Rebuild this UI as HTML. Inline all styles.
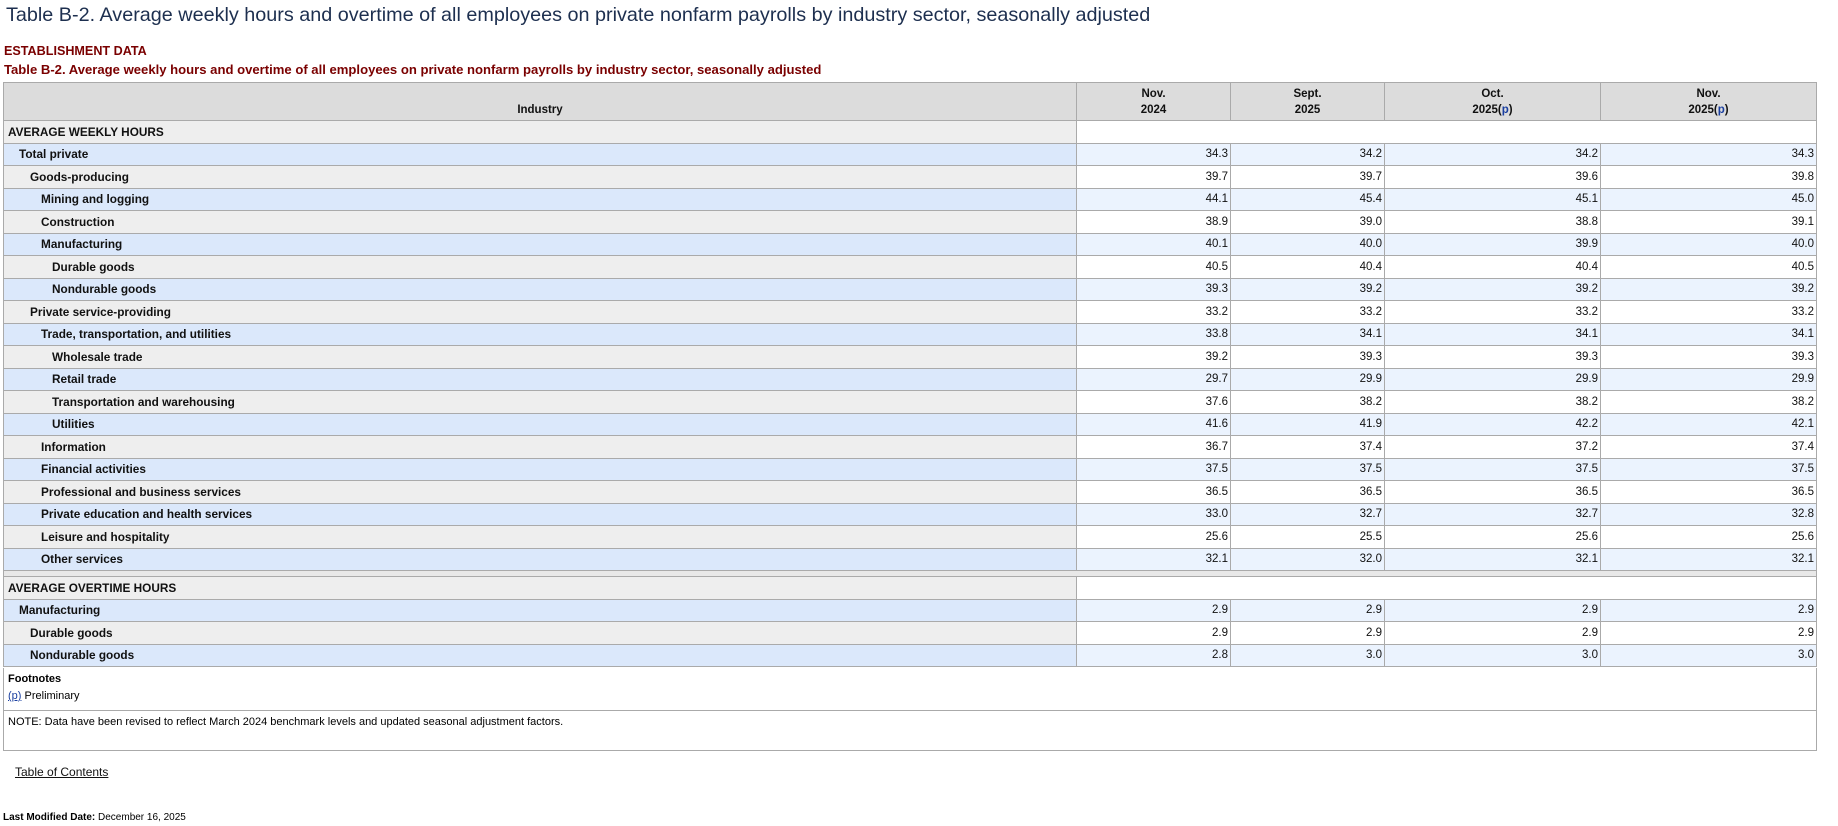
<!DOCTYPE html>
<html><head><meta charset="utf-8"><style>
body{margin:0;background:#fff;width:1838px;height:826px;overflow:hidden;font-family:"Liberation Sans",sans-serif;position:relative}
.t{position:absolute;left:6px;top:4px;font-size:19.8px;color:#1d2f4f;white-space:nowrap}
.e{position:absolute;left:4px;top:44px;font-size:12.6px;font-weight:bold;color:#7a0000}
.s{position:absolute;left:4px;top:62px;font-size:13.1px;font-weight:bold;color:#7a0000;white-space:nowrap}
table{position:absolute;left:3px;top:82px;border-collapse:collapse;table-layout:fixed;width:1814px}
td,th{border:1px solid #aaa;padding:0 2px;font-size:11.5px;height:21.5px;color:#111;white-space:nowrap}
th{background:#dcdcdc;font-weight:bold;height:35px;line-height:16px}
td.l{font-weight:bold;font-size:11.8px}
td.n{text-align:right}
tr.sec td{background:#eee}
tr.sec td.n{background:#fff}
tr.b td.l{background:#dbe8fb}
tr.b td.n{background:#ebf3fe}
tr.g td.l{background:#eee}
tr.g td.n{background:#fff}
tr.gap td{height:5px;background:#e8e8e8;padding:0}
a{color:#1a3fa0}
.fn{position:absolute;left:3px;top:668px;width:1812px;height:82px;border:1px solid #aaa;border-top:none;font-size:11px}
.fn .h{position:absolute;left:4px;top:5px;font-weight:bold}
.fn .p{position:absolute;left:4px;top:22px}
.fn .ln{position:absolute;left:0;right:0;top:42px;border-top:1px solid #aaa}
.fn .no{position:absolute;left:4px;top:48px}
.toc{position:absolute;left:15px;top:765px;font-size:12px;color:#111;text-decoration:underline}
.lm{position:absolute;left:3px;top:812px;font-size:10px}
</style></head><body>
<div class="t">Table B-2. Average weekly hours and overtime of all employees on private nonfarm payrolls by industry sector, seasonally adjusted</div>
<div class="e">ESTABLISHMENT DATA</div>
<div class="s">Table B-2. Average weekly hours and overtime of all employees on private nonfarm payrolls by industry sector, seasonally adjusted</div>
<table>
<colgroup><col style="width:1073px"><col style="width:154px"><col style="width:154px"><col style="width:216px"><col style="width:216px"></colgroup>
<tr><th style="vertical-align:bottom;padding-bottom:2px">Industry</th><th>Nov.<br>2024</th><th>Sept.<br>2025</th><th>Oct.<br>2025(<a>p</a>)</th><th>Nov.<br>2025(<a>p</a>)</th></tr>
<tr class="sec"><td class="l" style="padding-left:4px">AVERAGE WEEKLY HOURS</td><td class="n" colspan="4"></td></tr>
<tr class="b"><td class="l" style="padding-left:15px">Total private</td><td class="n">34.3</td><td class="n">34.2</td><td class="n">34.2</td><td class="n">34.3</td></tr>
<tr class="g"><td class="l" style="padding-left:26px">Goods-producing</td><td class="n">39.7</td><td class="n">39.7</td><td class="n">39.6</td><td class="n">39.8</td></tr>
<tr class="b"><td class="l" style="padding-left:37px">Mining and logging</td><td class="n">44.1</td><td class="n">45.4</td><td class="n">45.1</td><td class="n">45.0</td></tr>
<tr class="g"><td class="l" style="padding-left:37px">Construction</td><td class="n">38.9</td><td class="n">39.0</td><td class="n">38.8</td><td class="n">39.1</td></tr>
<tr class="b"><td class="l" style="padding-left:37px">Manufacturing</td><td class="n">40.1</td><td class="n">40.0</td><td class="n">39.9</td><td class="n">40.0</td></tr>
<tr class="g"><td class="l" style="padding-left:48px">Durable goods</td><td class="n">40.5</td><td class="n">40.4</td><td class="n">40.4</td><td class="n">40.5</td></tr>
<tr class="b"><td class="l" style="padding-left:48px">Nondurable goods</td><td class="n">39.3</td><td class="n">39.2</td><td class="n">39.2</td><td class="n">39.2</td></tr>
<tr class="g"><td class="l" style="padding-left:26px">Private service-providing</td><td class="n">33.2</td><td class="n">33.2</td><td class="n">33.2</td><td class="n">33.2</td></tr>
<tr class="b"><td class="l" style="padding-left:37px">Trade, transportation, and utilities</td><td class="n">33.8</td><td class="n">34.1</td><td class="n">34.1</td><td class="n">34.1</td></tr>
<tr class="g"><td class="l" style="padding-left:48px">Wholesale trade</td><td class="n">39.2</td><td class="n">39.3</td><td class="n">39.3</td><td class="n">39.3</td></tr>
<tr class="b"><td class="l" style="padding-left:48px">Retail trade</td><td class="n">29.7</td><td class="n">29.9</td><td class="n">29.9</td><td class="n">29.9</td></tr>
<tr class="g"><td class="l" style="padding-left:48px">Transportation and warehousing</td><td class="n">37.6</td><td class="n">38.2</td><td class="n">38.2</td><td class="n">38.2</td></tr>
<tr class="b"><td class="l" style="padding-left:48px">Utilities</td><td class="n">41.6</td><td class="n">41.9</td><td class="n">42.2</td><td class="n">42.1</td></tr>
<tr class="g"><td class="l" style="padding-left:37px">Information</td><td class="n">36.7</td><td class="n">37.4</td><td class="n">37.2</td><td class="n">37.4</td></tr>
<tr class="b"><td class="l" style="padding-left:37px">Financial activities</td><td class="n">37.5</td><td class="n">37.5</td><td class="n">37.5</td><td class="n">37.5</td></tr>
<tr class="g"><td class="l" style="padding-left:37px">Professional and business services</td><td class="n">36.5</td><td class="n">36.5</td><td class="n">36.5</td><td class="n">36.5</td></tr>
<tr class="b"><td class="l" style="padding-left:37px">Private education and health services</td><td class="n">33.0</td><td class="n">32.7</td><td class="n">32.7</td><td class="n">32.8</td></tr>
<tr class="g"><td class="l" style="padding-left:37px">Leisure and hospitality</td><td class="n">25.6</td><td class="n">25.5</td><td class="n">25.6</td><td class="n">25.6</td></tr>
<tr class="b"><td class="l" style="padding-left:37px">Other services</td><td class="n">32.1</td><td class="n">32.0</td><td class="n">32.1</td><td class="n">32.1</td></tr>
<tr class="gap"><td colspan="5"></td></tr>
<tr class="sec"><td class="l" style="padding-left:4px">AVERAGE OVERTIME HOURS</td><td class="n" colspan="4"></td></tr>
<tr class="b"><td class="l" style="padding-left:15px">Manufacturing</td><td class="n">2.9</td><td class="n">2.9</td><td class="n">2.9</td><td class="n">2.9</td></tr>
<tr class="g"><td class="l" style="padding-left:26px">Durable goods</td><td class="n">2.9</td><td class="n">2.9</td><td class="n">2.9</td><td class="n">2.9</td></tr>
<tr class="b"><td class="l" style="padding-left:26px">Nondurable goods</td><td class="n">2.8</td><td class="n">3.0</td><td class="n">3.0</td><td class="n">3.0</td></tr>
</table>
<div class="fn"><div class="h">Footnotes</div><div class="p"><a style="text-decoration:underline">(p)</a> Preliminary</div><div class="ln"></div><div class="no">NOTE: Data have been revised to reflect March 2024 benchmark levels and updated seasonal adjustment factors.</div></div>
<div class="toc">Table of Contents</div>
<div class="lm"><b>Last Modified Date:</b> December 16, 2025</div>
</body></html>
